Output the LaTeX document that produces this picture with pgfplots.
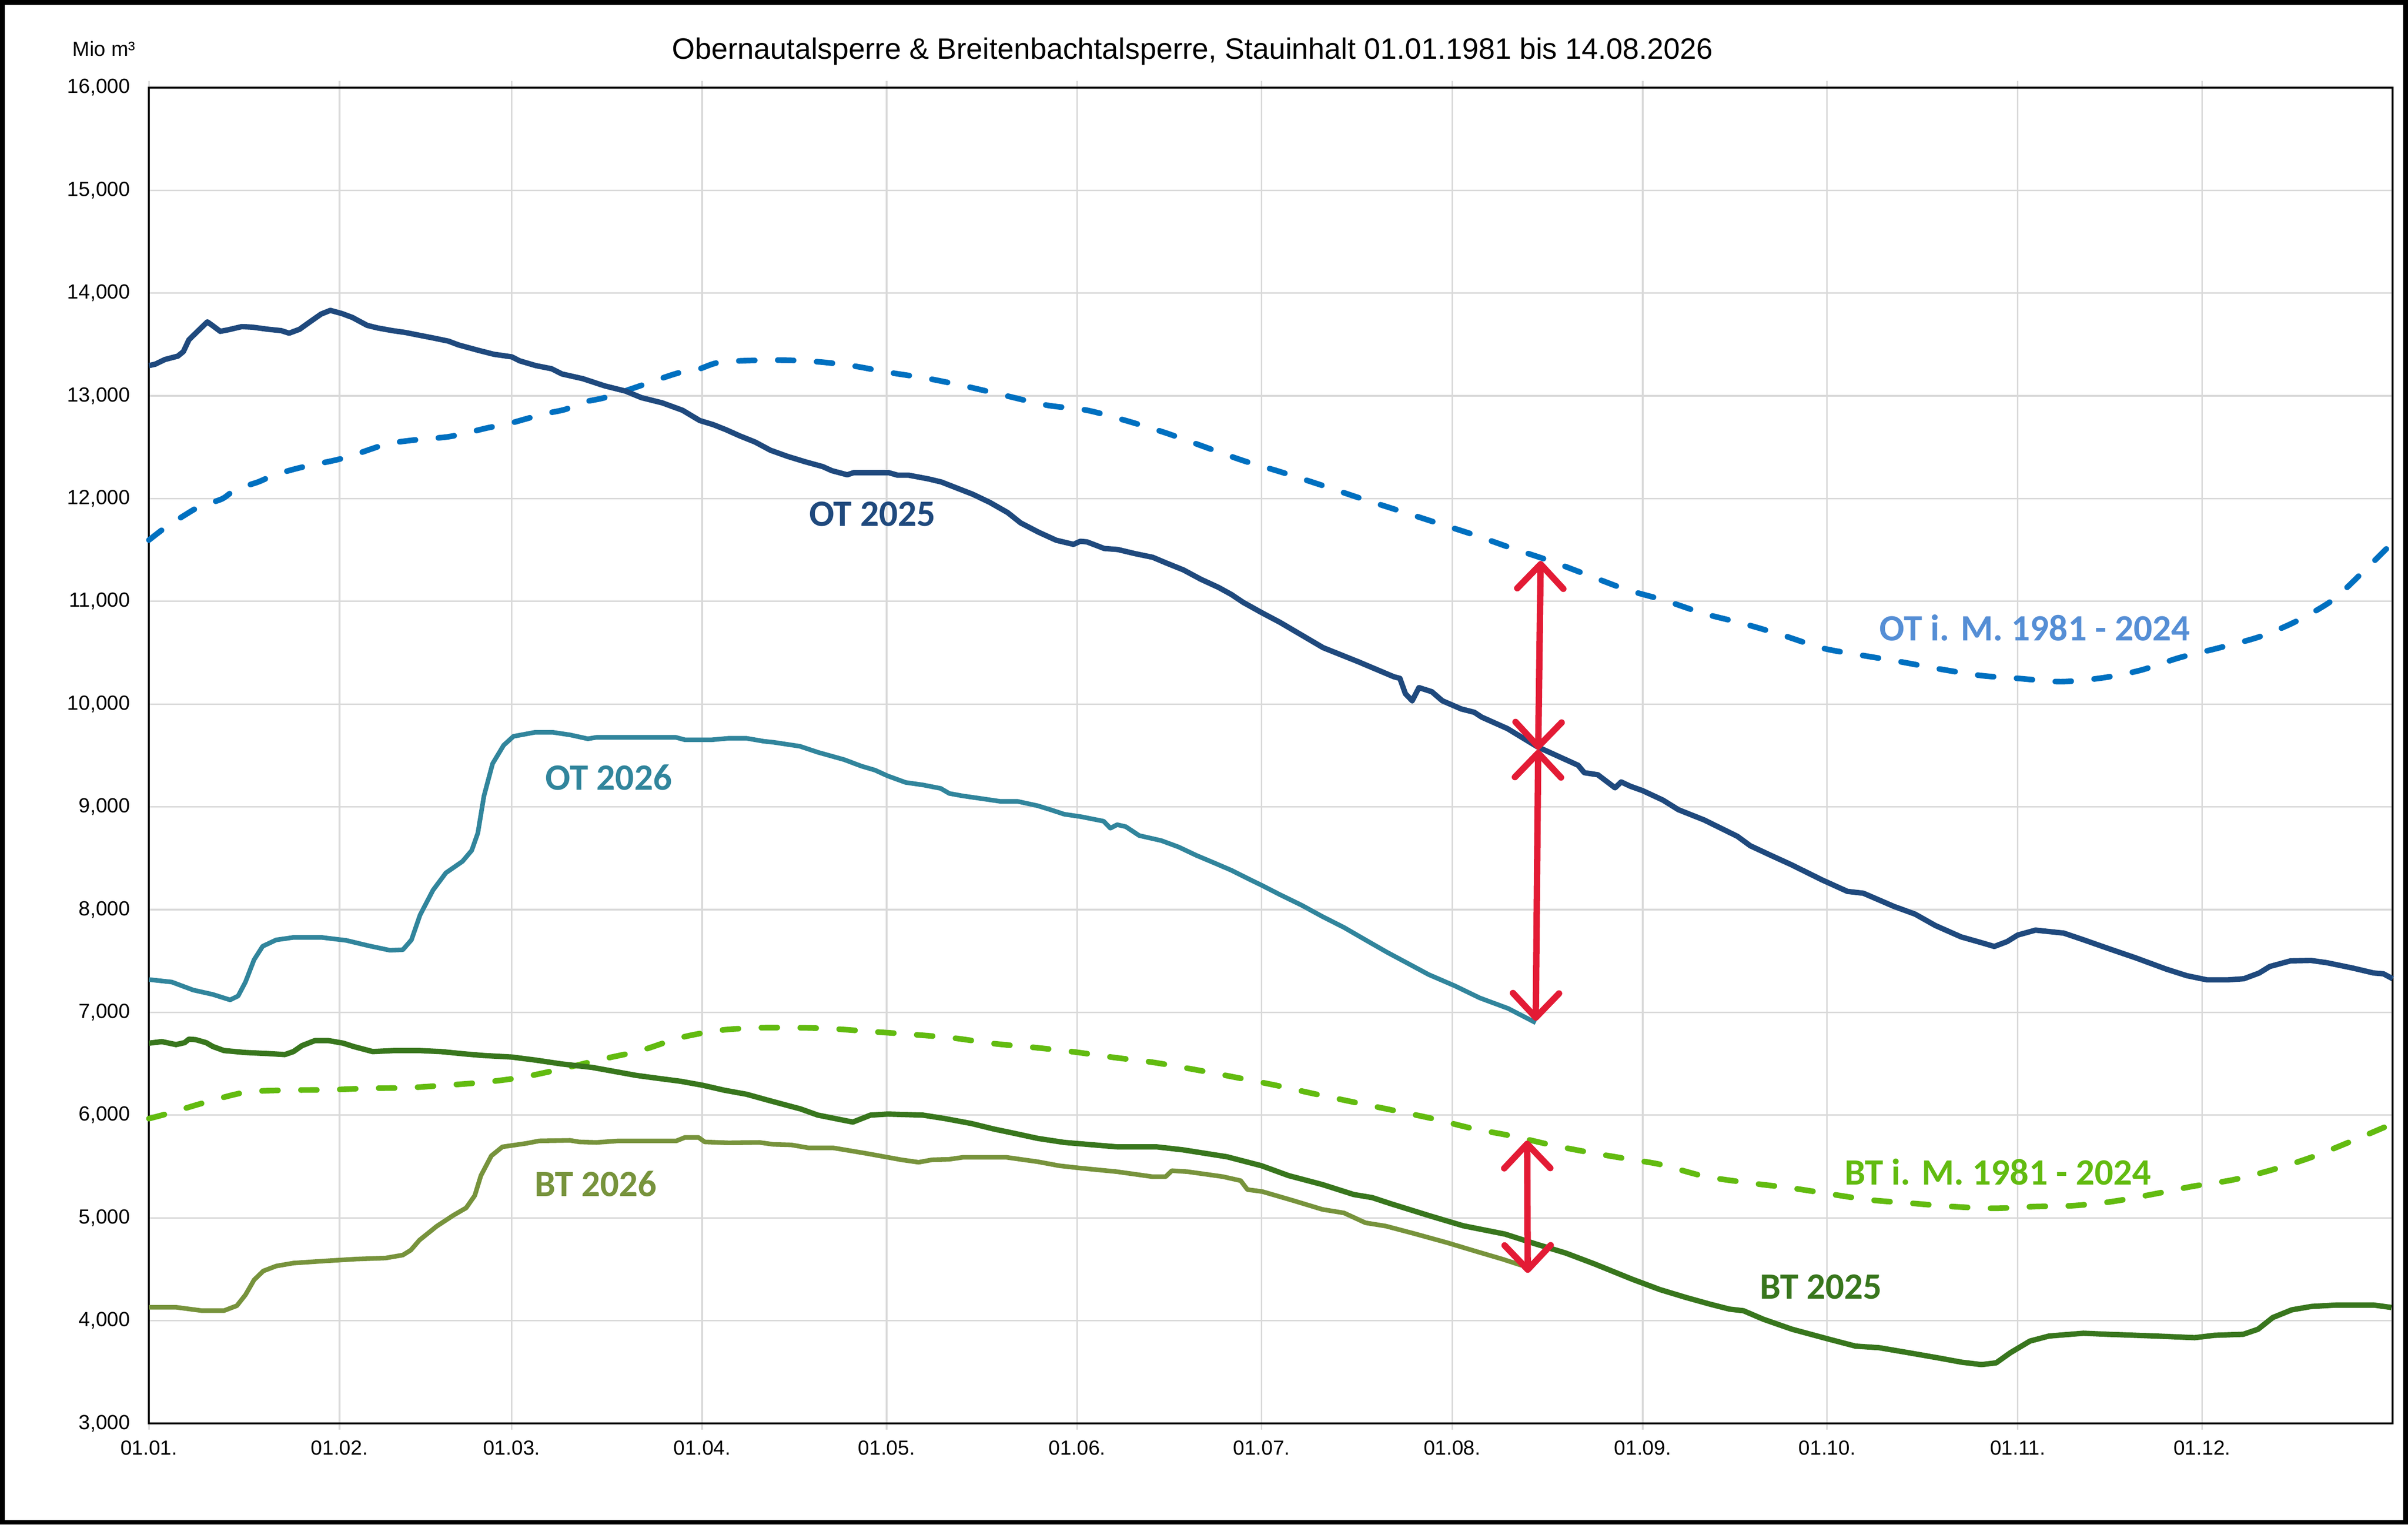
\documentclass[border=0pt]{standalone}
\usepackage{pgfplots}
\pgfplotsset{compat=1.18}
\usepackage{fontspec}
\setmainfont{Liberation Sans}
\newfontfamily\calfont{Carlito}
\usetikzlibrary{arrows.meta}
\definecolor{ot25}{HTML}{1F497D}
\definecolor{ot26}{HTML}{31859C}
\definecolor{otm}{HTML}{0070C0}
\definecolor{otmlab}{HTML}{558ED5}
\definecolor{bt25}{HTML}{38761D}
\definecolor{bt26}{HTML}{77933C}
\definecolor{btm}{HTML}{62BB10}
\definecolor{arr}{HTML}{E31B35}
\definecolor{grd}{HTML}{D9D9D9}
\begin{document}
\begin{tikzpicture}
\useasboundingbox (-58.2pt,-39.6pt) rectangle (882.6pt,556.2pt);
\draw[line width=1.8pt] (-57.3pt,-38.7pt) rectangle (881.7pt,555.3pt);
\begin{axis}[
  at={(0,0)}, anchor=south west,
  width=876.6pt, height=522pt, scale only axis,
  xmin=0, xmax=365, ymin=3000, ymax=16000,
  clip=false,
  xtick={0,31,59,90,120,151,181,212,243,273,304,334},
  xticklabels={01.01.,01.02.,01.03.,01.04.,01.05.,01.06.,01.07.,01.08.,01.09.,01.10.,01.11.,01.12.},
  ytick={3000,4000,...,16000},
  scaled y ticks=false,
  grid=major,
  major grid style={grd, line width=0.6pt},
  axis line style={black, line width=0.8pt},
  tick align=outside,
  major tick length=2.5pt,
  xtick style={grd, line width=0.6pt},
  ytick style={draw=none},
  /pgf/number format/fixed,
  /pgf/number format/precision=0,
  /pgf/number format/assume math mode=true,
  /pgf/number format/1000 sep={,},
  yticklabel style={font=\fontsize{8}{9}\selectfont, inner sep=0pt, anchor=east, xshift=-4.7pt},
  xticklabel style={font=\fontsize{8}{9}\selectfont, inner sep=0pt, anchor=north, yshift=-4.1pt},
]
% OT i. M. 1981 - 2024
\addplot[otm, line width=2.2pt, line cap=round, dash pattern=on 6.2pt off 9pt, smooth] coordinates {
(0,11596)(2.6,11715)(5.7,11834)(8.2,11920)(11.9,11997)(14.1,12087)(17.8,12162)(20.3,12227)(23.7,12287)(26.5,12326)(30.2,12372)(32.9,12415)(36.2,12483)(38.9,12534)(42.5,12565)(45.5,12582)(48.8,12602)(51.8,12640)(55.1,12688)(58.1,12722)(61.2,12773)(64.3,12824)(67.7,12867)(70.5,12935)(73.9,12978)(77,13038)(80.1,13101)(83.2,13166)(86.3,13225)(89.4,13259)(93.1,13328)(101,13347)(107.5,13337)(113.9,13297)(120.4,13227)(126.8,13167)(133.2,13088)(139.6,12998)(146.1,12908)(152.6,12859)(158.9,12759)(165.4,12639)(171.4,12510)(177.9,12371)(184,12261)(190.5,12135)(196.8,12008)(203,11889)(209.2,11769)(215.4,11650)(221.6,11519)(228,11392)(234.2,11252)(240.4,11113)(246.5,11010)(253,10880)(259.3,10784)(265.5,10675)(272.2,10545)(278,10481)(284.7,10414)(291.4,10340)(298.1,10277)(304.4,10248)(311.1,10218)(317.8,10255)(324,10329)(330.3,10451)(336.5,10543)(343.3,10654)(349.2,10802)(355.1,11006)(359.8,11264)(365,11571)
};
% BT i. M. 1981 - 2024
\addplot[btm, line width=2.2pt, line cap=round, dash pattern=on 6.2pt off 9pt, smooth] coordinates {
(0,5966)(3,6014)(9.3,6126)(15.7,6222)(22.1,6242)(29.2,6246)(35.8,6261)(42,6266)(48.2,6290)(54.4,6319)(60.6,6367)(67.1,6449)(73.5,6541)(80,6628)(86.5,6754)(93,6826)(99.3,6850)(105.7,6850)(110.9,6841)(117.7,6812)(124.5,6783)(131,6749)(137.4,6696)(144.2,6657)(150.6,6614)(157.1,6560)(163.5,6512)(170.4,6440)(176.8,6367)(183.3,6290)(189.5,6208)(196,6126)(202.3,6048)(208.8,5966)(215.3,5870)(221.8,5796)(228.3,5707)(234.7,5633)(241.2,5567)(246,5518)(253.1,5404)(260.6,5338)(267.3,5289)(273.6,5231)(279.9,5175)(286.7,5142)(293.4,5110)(300.1,5093)(306.8,5110)(313.1,5119)(319.4,5159)(326.1,5231)(332.4,5306)(339.1,5371)(345.5,5469)(351.8,5590)(358.1,5741)(364.8,5911)
};
% OT 2025
\addplot[ot25, line width=2.1pt, line join=round] coordinates {
(0,13294)(1,13307)(2.6,13353)(4.7,13386)(5.6,13430)(6.5,13545)(7.8,13621)(9.5,13719)(10.3,13685)(11.6,13627)(12.9,13642)(15.1,13673)(16.8,13668)(19.4,13647)(21.5,13634)(22.8,13609)(24.5,13647)(26.3,13724)(28,13795)(29.5,13831)(31.4,13800)(33.1,13762)(35.5,13685)(37.2,13660)(39.6,13634)(41.7,13616)(43.8,13591)(46.2,13563)(48.7,13532)(50.4,13494)(53.6,13442)(56.1,13404)(59,13379)(60.3,13340)(62.9,13294)(65.5,13263)(67.2,13212)(70.6,13166)(74.1,13097)(77.5,13046)(80.1,12982)(83.5,12931)(86.8,12859)(89.6,12759)(91.8,12719)(93.9,12669)(96.1,12610)(98.6,12550)(101.1,12470)(103.9,12410)(106.8,12357)(109.6,12311)(111.1,12271)(113.6,12231)(114.6,12251)(120.4,12251)(121.8,12227)(123.6,12227)(126.8,12191)(128.9,12161)(131,12112)(134,12042)(136.8,11962)(139.7,11863)(141.8,11763)(144.7,11673)(147.6,11594)(150.4,11554)(151.5,11584)(152.6,11578)(155.4,11514)(157.6,11504)(160.4,11464)(163.3,11428)(165.4,11375)(168.3,11305)(171.1,11215)(174,11135)(176.1,11066)(178,10990)(181,10890)(184,10795)(191,10549)(196.8,10410)(202.5,10266)(203.5,10250)(204.4,10100)(205.5,10032)(206.6,10160)(208.7,10120)(210.4,10032)(213.5,9952)(215.6,9920)(216.8,9873)(221,9761)(225.9,9583)(232.5,9404)(233.5,9332)(235.7,9312)(238.5,9185)(239.5,9242)(241,9200)(243,9157)(246.3,9065)(248.8,8972)(253,8872)(258.4,8713)(260.5,8621)(263.8,8529)(267.2,8436)(272.2,8288)(276.3,8177)(278.9,8159)(283.9,8030)(287.3,7956)(290.6,7845)(294.8,7734)(298.1,7678)(300.2,7641)(302.3,7689)(304,7752)(306.9,7800)(311.5,7771)(314.8,7704)(319,7616)(323.2,7530)(328.2,7420)(331.5,7357)(334.8,7316)(338.2,7316)(340.8,7327)(343.3,7383)(345,7446)(348.4,7501)(351.7,7505)(354.3,7483)(358.5,7431)(361.9,7383)(363.5,7375)(365,7327)
};
% BT 2025
\addplot[bt25, line width=2.1pt, line join=round] coordinates {
(0,6700)(2.1,6715)(4.4,6686)(5.8,6705)(6.5,6739)(7.6,6734)(9.3,6705)(10.4,6667)(12.2,6628)(15.7,6609)(19.3,6599)(22.1,6589)(23.5,6618)(24.9,6676)(27,6725)(29.2,6725)(31.6,6700)(33.3,6667)(36.4,6618)(39.9,6628)(44,6628)(47.5,6618)(51.6,6594)(54.4,6580)(59,6565)(62.8,6536)(67.1,6498)(72.1,6464)(75.7,6425)(79.3,6386)(82.9,6357)(86.5,6329)(90.1,6290)(93.6,6242)(97.2,6203)(100.7,6145)(104.3,6087)(106,6060)(108.8,6000)(114.5,5932)(117.4,6000)(120.2,6010)(125.9,6000)(129.5,5966)(133.8,5918)(137.4,5865)(140.9,5821)(144.6,5773)(148.9,5734)(151.7,5720)(157.5,5691)(163.9,5691)(168.2,5662)(175.4,5594)(181,5507)(185.4,5411)(190.9,5324)(196,5227)(199,5197)(202,5138)(208.4,5019)(213.8,4923)(220.6,4842)(225.6,4746)(230.5,4657)(235.1,4553)(241.2,4405)(245.8,4302)(250,4226)(253.9,4161)(257.1,4112)(259.4,4096)(262.6,4014)(267.3,3916)(273,3824)(277.6,3752)(281.5,3736)(286.3,3687)(291,3638)(294.9,3595)(298.1,3572)(300.5,3589)(302.8,3687)(306,3801)(309.1,3850)(314.7,3877)(318.6,3867)(326.5,3850)(332.8,3834)(336,3857)(340.7,3867)(343.1,3916)(345.5,4030)(348.6,4105)(351.8,4138)(355.7,4151)(362,4151)(364.8,4128)
};
% OT 2026
\addplot[ot26, line width=1.8pt, line join=round] coordinates {
(0,7319)(3.7,7295)(7.2,7217)(10.4,7174)(13.2,7121)(14.5,7159)(15.7,7295)(17.1,7512)(18.5,7643)(20.7,7705)(23.5,7729)(28.1,7729)(32.1,7700)(35.8,7647)(39.2,7604)(41.3,7609)(42.7,7705)(44.1,7947)(46.2,8188)(48.3,8357)(51,8469)(52.5,8575)(53.5,8744)(54.5,9106)(55.9,9420)(57.7,9599)(59.3,9686)(62.8,9725)(65.7,9725)(68.5,9700)(71.4,9662)(72.8,9676)(85.7,9676)(87.2,9652)(91.5,9652)(94.3,9667)(97.2,9667)(100,9638)(101.6,9628)(105.9,9589)(108.8,9531)(113.1,9459)(115.9,9396)(118.1,9357)(120.2,9300)(123.1,9237)(125.9,9213)(128.8,9179)(130.2,9130)(132.4,9106)(135.2,9082)(138.5,9053)(141.3,9053)(144.6,9010)(146.7,8971)(148.9,8928)(151.7,8903)(155.3,8860)(156.4,8792)(157.5,8826)(158.9,8807)(161.1,8720)(164.7,8671)(167.5,8609)(170.4,8527)(173.3,8454)(176.1,8382)(179,8295)(181,8237)(184,8145)(187.5,8043)(190.9,7932)(194.4,7826)(197.9,7705)(201.4,7585)(204.9,7473)(208.2,7367)(212.5,7256)(216.5,7140)(221.1,7038)(225.6,6899)
};
% BT 2026
\addplot[bt26, line width=1.8pt, line join=round] coordinates {
(0,4130)(4.4,4130)(8.6,4097)(12.2,4097)(14.3,4145)(15.7,4251)(17.1,4396)(18.6,4483)(20.7,4531)(23.5,4560)(28.5,4580)(33.7,4599)(38.5,4609)(41.3,4638)(42.6,4686)(44,4783)(46.8,4918)(49.5,5024)(51.6,5097)(53,5217)(54,5411)(55.7,5604)(57.5,5691)(61.4,5725)(63.5,5749)(68.5,5754)(70,5739)(72.8,5734)(76.4,5749)(85.8,5749)(87.2,5783)(89.4,5783)(90.4,5739)(94.3,5730)(99.3,5734)(101.6,5715)(104.5,5710)(107.3,5681)(111.3,5681)(116.6,5628)(120.2,5589)(122.4,5565)(125.2,5541)(127.4,5565)(130.2,5570)(132.4,5589)(139.5,5589)(144.6,5546)(148.1,5507)(151.7,5483)(157.5,5449)(163.2,5401)(165.4,5401)(166.4,5459)(169,5449)(174.7,5401)(177.6,5362)(178.7,5275)(181.1,5256)(186.1,5169)(190.9,5082)(194.4,5048)(197.9,4952)(201.2,4920)(205.7,4849)(211.1,4760)(216,4672)(220.2,4598)(223.3,4538)
};
% red arrows
\draw[arr, line width=2.5pt, {Straight Barb[length=9.5pt,width=18pt,round]}-{Straight Barb[length=9.5pt,width=18pt,round]}] (axis cs:226,9555) -- (axis cs:226.4,11392);
\draw[arr, line width=2.5pt, {Straight Barb[length=9.5pt,width=18pt,round]}-{Straight Barb[length=9.5pt,width=18pt,round]}] (axis cs:226,9555) -- (axis cs:225.6,6918);
\draw[arr, line width=2.5pt, {Straight Barb[length=9.5pt,width=18pt,round]}-{Straight Barb[length=9.5pt,width=18pt,round]}] (axis cs:224.3,4465) -- (axis cs:224.2,5751);
% labels
\node[text=ot25, font=\calfont\bfseries\fontsize{14.5}{16}\selectfont, inner sep=0pt] at (axis cs:117.7,11847) {OT 2025};
\node[text=ot26, font=\calfont\bfseries\fontsize{14.5}{16}\selectfont, inner sep=0pt] at (axis cs:74.8,9286) {OT 2026};
\node[text=otmlab, font=\calfont\bfseries\fontsize{14.5}{16}\selectfont, inner sep=0pt] at (axis cs:306.8,10740) {OT i. M. 1981 - 2024};
\node[text=bt26, font=\calfont\bfseries\fontsize{14.5}{16}\selectfont, inner sep=0pt] at (axis cs:72.7,5330) {BT 2026};
\node[text=btm, font=\calfont\bfseries\fontsize{14.5}{16}\selectfont, inner sep=0pt] at (axis cs:300.8,5445) {BT i. M. 1981 - 2024};
\node[text=bt25, font=\calfont\bfseries\fontsize{14.5}{16}\selectfont, inner sep=0pt] at (axis cs:272,4326) {BT 2025};
\end{axis}
\node[anchor=base, font=\fontsize{11.5}{13}\selectfont, inner sep=0pt] at (407.7pt,533.1pt) {Obernautalsperre \& Breitenbachtalsperre, Stauinhalt 01.01.1981 bis 14.08.2026};
\node[anchor=base, font=\fontsize{8}{9}\selectfont, inner sep=0pt] at (-17.6pt,534.2pt) {Mio m³};
\end{tikzpicture}
\end{document}
